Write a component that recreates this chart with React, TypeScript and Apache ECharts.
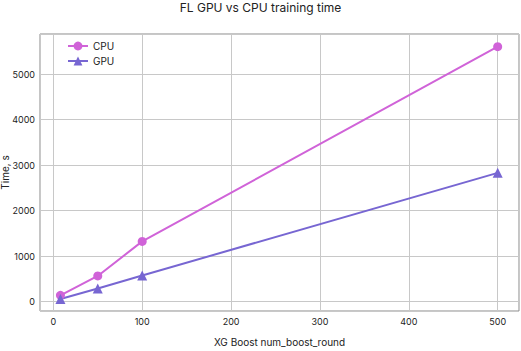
import React, { useEffect, useRef } from "react";
import * as echarts from "echarts";

const rounds = [8, 50, 100, 500];
const cpuTime = [140, 565, 1325, 5605];
const gpuTime = [60, 290, 575, 2832];
const seriesNames = ["CPU", "GPU"];

const FONT = "Inter, 'Noto Sans', sans-serif";

export default function App() {
  const ref = useRef<HTMLDivElement>(null);
  useEffect(() => {
    if (!ref.current) return;
    const chart = echarts.init(ref.current, null, { renderer: "svg" });
    chart.setOption({
      animation: false,
      textStyle: { fontFamily: FONT },
      title: {
        text: "FL GPU vs CPU training time",
        left: "center",
        top: 1,
        padding: 0,
        textStyle: { fontFamily: FONT, fontSize: 12, fontWeight: "normal", color: "#222" },
      },
      legend: {
        orient: "vertical",
        left: 62,
        top: 36,
        itemWidth: 20,
        itemHeight: 11,
        itemGap: 5,
        textStyle: { fontFamily: FONT, fontSize: 10, color: "#222" },
        data: seriesNames,
      },
      grid: {
        left: 40,
        right: 2,
        top: 34,
        bottom: 40,
        containLabel: false,
        outerBoundsMode: "none",
        show: true,
        borderColor: "#8a8a8a",
        borderWidth: 1,
        backgroundColor: "transparent",
      },
      xAxis: {
        type: "value",
        min: -15,
        max: 524,
        splitNumber: 5,
        name: "XG Boost num_boost_round",
        nameLocation: "middle",
        nameGap: 26,
        nameMoveOverlap: false,
        nameTextStyle: { fontFamily: FONT, fontSize: 10, color: "#222" },
        axisLine: { show: false },
        axisTick: { show: false },
        axisLabel: {
          fontFamily: FONT, fontSize: 9, color: "#222", margin: 6,
          showMinLabel: false, showMaxLabel: false,
          formatter: (v: number) => String(v),
        },
        splitLine: { show: true, lineStyle: { color: "#c8c8c8", width: 1 } },
      },
      yAxis: {
        type: "value",
        min: -205,
        max: 5884,
        splitNumber: 6,
        name: "Time, s",
        nameLocation: "middle",
        nameGap: 30,
        nameMoveOverlap: false,
        nameTextStyle: { fontFamily: FONT, fontSize: 10, color: "#222" },
        axisLine: { show: false },
        axisTick: { show: false },
        axisLabel: {
          fontFamily: FONT, fontSize: 9, color: "#222", margin: 5,
          showMinLabel: false, showMaxLabel: false,
          formatter: (v: number) => String(v),
        },
        splitLine: { show: true, lineStyle: { color: "#c8c8c8", width: 1 } },
      },
      series: [
        {
          name: seriesNames[0],
          type: "line",
          data: rounds.map((r, i) => [r, cpuTime[i]]),
          symbol: "circle",
          symbolSize: 9,
          lineStyle: { width: 2, color: "#d063d8" },
          itemStyle: { color: "#d063d8" },
        },
        {
          name: seriesNames[1],
          type: "line",
          data: rounds.map((r, i) => [r, gpuTime[i]]),
          symbol: "triangle",
          symbolSize: 10,
          lineStyle: { width: 2, color: "#7766d2" },
          itemStyle: { color: "#7766d2" },
        },
      ],
    });
    return () => chart.dispose();
  }, []);
  return <div ref={ref} style={{ width: 521, height: 351, position: "absolute", left: 0, top: 0, background: "#fff" }} />;
}
